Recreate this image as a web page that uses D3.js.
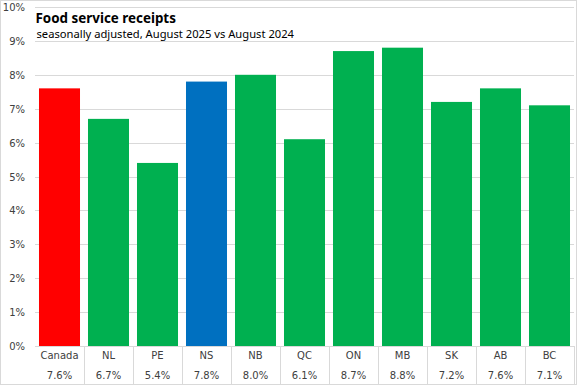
<!DOCTYPE html>
<html><head><meta charset="utf-8">
<script src="https://cdn.jsdelivr.net/npm/d3@7"></script>
<style>body{margin:0;background:#fff}svg{display:block}</style>
</head><body>
<script>
const categories = ["Canada","NL","PE","NS","NB","QC","ON","MB","SK","AB","BC"];
const values = [7.6,6.7,5.4,7.8,8.0,6.1,8.7,8.8,7.2,7.6,7.1];
const valueLabels = ["7.6%","6.7%","5.4%","7.8%","8.0%","6.1%","8.7%","8.8%","7.2%","7.6%","7.1%"];
const barColors = ["#FF0000","#00B050","#00B050","#0070C0","#00B050","#00B050","#00B050","#00B050","#00B050","#00B050","#00B050"];
const yTicks = [0,1,2,3,4,5,6,7,8,9,10];
const title = "Food service receipts";
const subtitle = "seasonally adjusted, August 2025 vs August 2024";

const W = 577, H = 385;
const svg = d3.select("body").append("svg").attr("width", W).attr("height", H);
svg.append("rect").attr("x",0.5).attr("y",0.5).attr("width",W-1).attr("height",H-1)
  .attr("fill","#fff").attr("stroke","#d9d9d9");

const x = d3.scaleBand().domain(categories).range([35, 574]).paddingInner(0.163).paddingOuter(0.0815);
const y = d3.scaleLinear().domain([0,10]).range([346, 7]);
const grey = "#d9d9d9";

// gridlines
svg.append("g").selectAll("line").data(yTicks.filter(d=>d>0)).join("line")
  .attr("x1",35).attr("x2",574)
  .attr("y1",d=>Math.round(y(d))+0.5).attr("y2",d=>Math.round(y(d))+0.5)
  .attr("stroke",grey).attr("stroke-width",1);

// y labels
svg.append("g").selectAll("text").data(yTicks).join("text")
  .attr("x",25).attr("y",d=>y(d)+4)
  .attr("text-anchor","end").attr("font-family","DejaVu Sans").attr("font-size",10).attr("fill","#404040")
  .text(d=>d+"%");

// bars
svg.append("g").selectAll("rect").data(categories).join("rect")
  .attr("x",d=>x(d)).attr("width",x.bandwidth())
  .attr("y",(d,i)=>y(values[i])).attr("height",(d,i)=>y(0)-y(values[i]))
  .attr("fill",(d,i)=>barColors[i]);

// axis line
svg.append("line").attr("x1",35).attr("x2",574).attr("y1",346.5).attr("y2",346.5).attr("stroke",grey);

// table separators
const step = x.step();
svg.append("g").selectAll("line").data(categories.slice(1).concat(["__end"])).join("line")
  .attr("x1",(d,i)=>Math.round(x(categories[0]) - x.step()*x.paddingOuter() + step*(i+1))+0.5)
  .attr("x2",(d,i)=>Math.round(x(categories[0]) - x.step()*x.paddingOuter() + step*(i+1))+0.5)
  .attr("y1",346).attr("y2",384).attr("stroke",grey);

// category labels
svg.append("g").selectAll("text").data(categories).join("text")
  .attr("x",d=>x(d)+x.bandwidth()/2).attr("y",359)
  .attr("text-anchor","middle").attr("font-family","DejaVu Sans").attr("font-size",10).attr("fill","#404040")
  .text(d=>d);
svg.append("g").selectAll("text").data(valueLabels).join("text")
  .attr("x",(d,i)=>x(categories[i])+x.bandwidth()/2).attr("y",379)
  .attr("text-anchor","middle").attr("font-family","DejaVu Sans").attr("font-size",10).attr("fill","#404040")
  .text(d=>d);

// titles
svg.append("text").attr("x",35.5).attr("y",23).attr("font-family","Noto Sans").attr("font-weight","bold")
  .attr("font-size",13.4).attr("fill","#000").text(title);
svg.append("text").attr("x",36.5).attr("y",38).attr("font-family","Noto Sans")
  .attr("font-size",11.2).attr("fill","#000").text(subtitle);
</script>
</body></html>
